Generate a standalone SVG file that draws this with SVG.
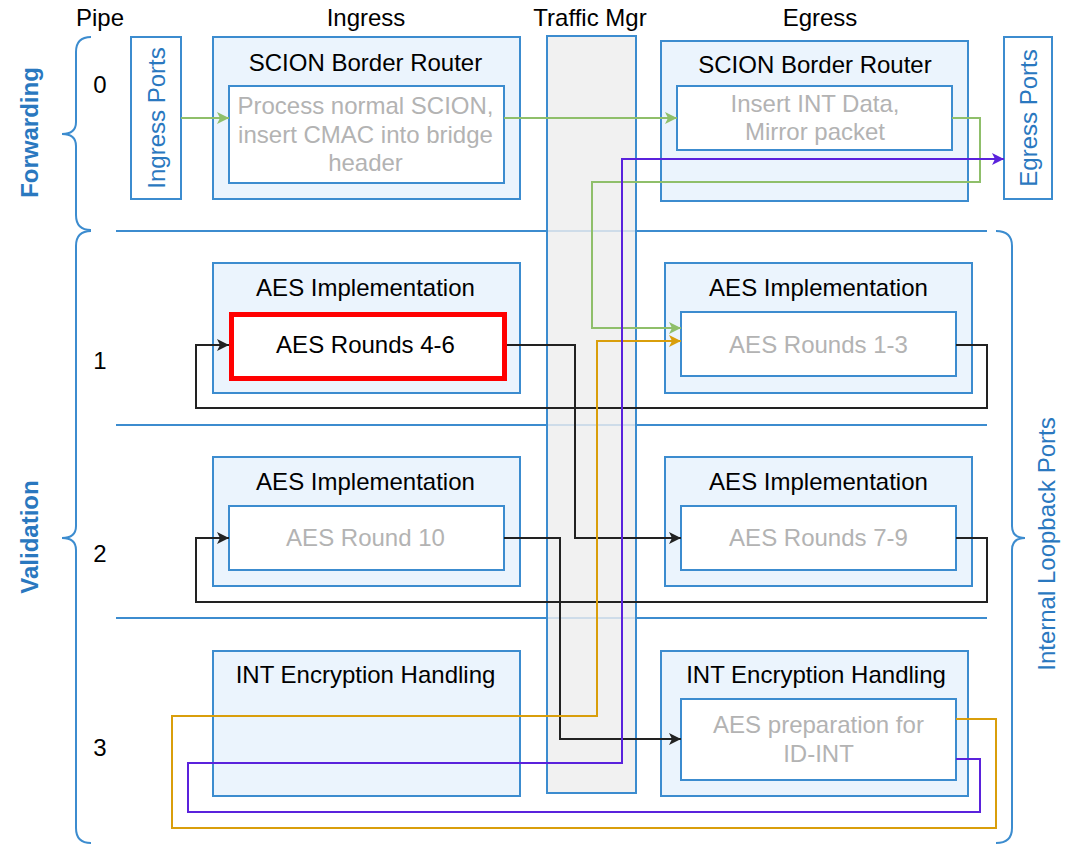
<svg xmlns="http://www.w3.org/2000/svg" width="1067" height="845" viewBox="0 0 1067 845">
<defs>
<style>
text{font-family:"Liberation Sans",Arial,sans-serif;font-size:24px;}
.hd{fill:#000;text-anchor:middle;}
.bl{fill:#2a78bf;text-anchor:middle;}
.blb{fill:#2a78bf;text-anchor:middle;font-weight:bold;}
.gr{fill:#b3b3b3;text-anchor:middle;}
.outer{fill:#ebf4fd;stroke:#3c8ccf;stroke-width:2;}
.inner{fill:#ffffff;stroke:#3c8ccf;stroke-width:2;}
.port{fill:#ffffff;stroke:#3c8ccf;stroke-width:2;}
.sep{stroke:#3c8ccf;stroke-width:2;fill:none;}
.brace{stroke:#3c8ccf;stroke-width:2;fill:none;}
.c{fill:none;stroke-width:2;stroke-linejoin:miter;}
.g{stroke:#8fbf6a;}
.o{stroke:#d99e0b;}
.p{stroke:#5a22dc;}
.k{stroke:#222222;}
</style>
<marker id="ag" markerUnits="userSpaceOnUse" markerWidth="14" markerHeight="14" refX="12" refY="6" orient="auto" viewBox="0 0 14 14"><path d="M0,0 L12,6 L0,12 L3,6 Z" fill="#8fbf6a"/></marker>
<marker id="ao" markerUnits="userSpaceOnUse" markerWidth="14" markerHeight="14" refX="12" refY="6" orient="auto" viewBox="0 0 14 14"><path d="M0,0 L12,6 L0,12 L3,6 Z" fill="#d99e0b"/></marker>
<marker id="ap" markerUnits="userSpaceOnUse" markerWidth="14" markerHeight="14" refX="12" refY="6" orient="auto" viewBox="0 0 14 14"><path d="M0,0 L12,6 L0,12 L3,6 Z" fill="#5a22dc"/></marker>
<marker id="ak" markerUnits="userSpaceOnUse" markerWidth="14" markerHeight="14" refX="12" refY="6" orient="auto" viewBox="0 0 14 14"><path d="M0,0 L12,6 L0,12 L3,6 Z" fill="#222222"/></marker>
</defs>
<rect width="1067" height="845" fill="#ffffff"/>

<g id="headers">
<text class="hd" x="100" y="26">Pipe</text>
<text class="hd" x="366" y="26">Ingress</text>
<text class="hd" x="590" y="26">Traffic Mgr</text>
<text class="hd" x="820" y="26">Egress</text>
<text class="hd" x="100" y="93">0</text>
<text class="hd" x="100" y="369">1</text>
<text class="hd" x="100" y="562">2</text>
<text class="hd" x="100" y="756">3</text>
</g>

<g id="braces">
<path class="brace" d="M91,37 Q76,37 76,52 L76,122 Q76,134 62,134 Q76,134 76,146 L76,215 Q76,230 91,230"/>
<path class="brace" d="M91,231 Q76,231 76,246 L76,526 Q76,538 62,538 Q76,538 76,550 L76,828 Q76,843 91,843"/>
<path class="brace" d="M996,231 Q1012,231 1012,246 L1012,526 Q1012,538 1025,538 Q1012,538 1012,550 L1012,828 Q1012,843 996,843"/>
<text class="blb" transform="translate(37.5,132.5) rotate(-90)">Forwarding</text>
<text class="blb" transform="translate(37.5,537) rotate(-90)">Validation</text>
<text class="bl" transform="translate(1055,544) rotate(-90)">Internal Loopback Ports</text>
</g>

<g id="separators">
<line class="sep" x1="116" y1="231" x2="987" y2="231"/>
<line class="sep" x1="116" y1="425" x2="987" y2="425"/>
<line class="sep" x1="116" y1="618" x2="987" y2="618"/>
</g>

<g id="traffic-mgr">
<rect x="547" y="36" width="89" height="757" fill="#eeeeee" fill-opacity="0.82" stroke="#3c8ccf" stroke-width="2"/>
</g>

<g id="ingress-ports">
<rect class="port" x="131" y="37" width="50" height="162"/>
<text class="bl" transform="translate(164.5,118) rotate(-90)">Ingress Ports</text>
</g>

<g id="egress-ports">
<rect class="port" x="1004" y="37" width="48" height="162"/>
<text class="bl" transform="translate(1037,118) rotate(-90)">Egress Ports</text>
</g>

<g id="ingress-sbr">
<rect class="outer" x="213" y="37" width="307" height="162"/>
<text class="hd" x="365.5" y="71">SCION Border Router</text>
<rect class="inner" x="229" y="86" width="275" height="97"/>
<text class="gr" x="365.5" y="114">Process normal SCION,</text>
<text class="gr" x="365.5" y="143">insert CMAC into bridge</text>
<text class="gr" x="365.5" y="171">header</text>
</g>

<g id="egress-sbr">
<rect class="outer" x="661" y="41" width="307" height="160"/>
<text class="hd" x="815" y="73">SCION Border Router</text>
<rect class="inner" x="677" y="86" width="275" height="64"/>
<text class="gr" x="815" y="112">Insert INT Data,</text>
<text class="gr" x="815" y="140">Mirror packet</text>
</g>

<g id="ingress-aes-1">
<rect class="outer" x="213" y="263" width="307" height="130"/>
<text class="hd" x="365.5" y="296">AES Implementation</text>
<rect x="231.5" y="314.5" width="273" height="64" fill="#ffffff" stroke="#ff0000" stroke-width="5"/>
<text class="hd" x="365.5" y="353">AES Rounds 4-6</text>
</g>

<g id="egress-aes-1">
<rect class="outer" x="665" y="263" width="307" height="130"/>
<text class="hd" x="818.5" y="296">AES Implementation</text>
<rect class="inner" x="681" y="312" width="275" height="64"/>
<text class="gr" x="818.5" y="353">AES Rounds 1-3</text>
</g>

<g id="ingress-aes-2">
<rect class="outer" x="213" y="457" width="307" height="129"/>
<text class="hd" x="365.5" y="490">AES Implementation</text>
<rect class="inner" x="229" y="506" width="275" height="64"/>
<text class="gr" x="365.5" y="546">AES Round 10</text>
</g>

<g id="egress-aes-2">
<rect class="outer" x="665" y="457" width="307" height="129"/>
<text class="hd" x="818.5" y="490">AES Implementation</text>
<rect class="inner" x="681" y="506" width="275" height="64"/>
<text class="gr" x="818.5" y="546">AES Rounds 7-9</text>
</g>

<g id="ingress-int">
<rect class="outer" x="213" y="651" width="307" height="145"/>
<text class="hd" x="365.5" y="683">INT Encryption Handling</text>
</g>

<g id="egress-int">
<rect class="outer" x="661" y="651" width="307" height="145"/>
<text class="hd" x="816" y="683">INT Encryption Handling</text>
<rect class="inner" x="681" y="699" width="275" height="81"/>
<text class="gr" x="818.5" y="733">AES preparation for</text>
<text class="gr" x="818.5" y="762">ID-INT</text>
</g>

<g id="connectors">
<path class="c g" d="M181,118 L229,118" marker-end="url(#ag)"/>
<path class="c g" d="M504,118 L677,118" marker-end="url(#ag)"/>
<path class="c g" d="M952,118 L980,118 L980,182 L592,182 L592,328 L681,328" marker-end="url(#ag)"/>
<path class="c k" d="M956,345 L987,345 L987,408 L196,408 L196,345 L229,345" marker-end="url(#ak)"/>
<path class="c k" d="M507,345 L575,345 L575,538 L681,538" marker-end="url(#ak)"/>
<path class="c k" d="M956,538 L987,538 L987,602 L196,602 L196,538 L229,538" marker-end="url(#ak)"/>
<path class="c k" d="M504,538 L560,538 L560,739 L681,739" marker-end="url(#ak)"/>
<path class="c o" d="M956,719 L996,719 L996,828 L172,828 L172,716 L597,716 L597,341 L681,341" marker-end="url(#ao)"/>
<path class="c p" d="M956,759 L980,759 L980,812 L188,812 L188,763 L622,763 L622,159 L1004,159" marker-end="url(#ap)"/>
</g>
</svg>
